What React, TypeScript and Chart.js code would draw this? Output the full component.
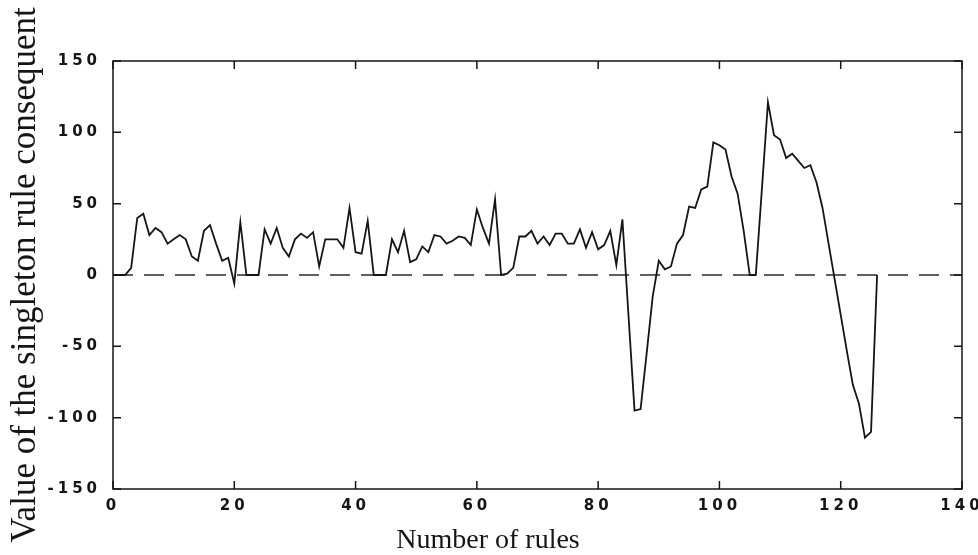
import React, { useEffect, useRef } from "react";
import { Chart, registerables } from "chart.js";

Chart.register(...registerables);

// Rule index (0..126) and the singleton rule consequent values
const ruleValues: number[] = [
  0, 0, 0, 5, 40, 43, 28, 33, 30, 22,
  25, 28, 25, 13, 10, 31, 35, 22, 10, 12,
  -6, 37, 0, 0, 0, 32, 22, 33, 19, 13,
  25, 29, 26, 30, 6, 25, 25, 25, 19, 47,
  16, 15, 38, 0, 0, 0, 25, 16, 31, 9,
  11, 20, 16, 28, 27, 22, 24, 27, 26, 21,
  46, 33, 22, 53, 0, 1, 5, 27, 27, 31,
  22, 27, 21, 29, 29, 22, 22, 32, 19, 30,
  18, 21, 31, 7, 39, -28, -95, -94, -55, -15,
  10, 4, 6, 22, 28, 48, 47, 60, 62, 93,
  91, 88, 69, 57, 31, 0, 0, 60, 121, 98,
  95, 82, 85, 80, 75, 77, 65, 47, 22, -3,
  -28, -53, -77, -90, -114, -110, 0,
];
const zeroLineX: number[] = [0, 140];
const zeroLineY: number[] = [0, 0];

const xTitle = "Number of rules";
const yTitle = "Value of the singleton rule consequent";

const INK = "#151515";

const framePlugin = {
  id: "frameTicks",
  afterDatasetsDraw(chart: any) {
    const { ctx, chartArea, scales } = chart;
    const { left, right, top, bottom } = chartArea;
    const tl = 8;
    ctx.save();
    ctx.strokeStyle = INK;
    ctx.lineWidth = 1.5;
    ctx.beginPath();
    scales.x.ticks.forEach((t: any) => {
      const px = scales.x.getPixelForValue(t.value);
      ctx.moveTo(px, bottom);
      ctx.lineTo(px, bottom - tl);
      ctx.moveTo(px, top);
      ctx.lineTo(px, top + tl);
    });
    scales.y.ticks.forEach((t: any) => {
      const py = scales.y.getPixelForValue(t.value);
      ctx.moveTo(left, py);
      ctx.lineTo(left + tl, py);
      ctx.moveTo(right, py);
      ctx.lineTo(right - tl, py);
    });
    ctx.stroke();
    ctx.strokeRect(left, top, right - left, bottom - top);
    ctx.restore();
    // spaced-out tick labels (drawn after this hook, at z = 1)
    (ctx as any).letterSpacing = "4px";
  },
  afterDraw(chart: any) {
    (chart.ctx as any).letterSpacing = "0px";
  },
};

export default function App() {
  const canvasRef = useRef<HTMLCanvasElement | null>(null);

  useEffect(() => {
    if (!canvasRef.current) return;
    const points = ruleValues.map((v, i) => ({ x: i, y: v }));
    const zeroPts = zeroLineX.map((x, i) => ({ x, y: zeroLineY[i] }));
    const tickFont = { family: "'DejaVu Sans', 'Liberation Sans', sans-serif", size: 15, weight: "bold" as const };
    const chart = new Chart(canvasRef.current, {
      type: "line",
      data: {
        datasets: [
          {
            data: points,
            borderColor: INK,
            borderWidth: 1.8,
            pointRadius: 0,
            tension: 0,
          },
          {
            data: zeroPts,
            borderColor: "#2a2a2a",
            borderWidth: 1.5,
            borderDash: [20, 11],
            pointRadius: 0,
          },
        ],
      },
      options: {
        responsive: false,
        animation: false,
        devicePixelRatio: 1,
        layout: { padding: { top: 61, right: 2, left: 0, bottom: 0 } },
        plugins: {
          legend: { display: false },
          tooltip: { enabled: false },
          title: {
            display: true,
            position: "bottom",
            text: xTitle,
            color: INK,
            font: { family: "'Liberation Serif', 'Times New Roman', serif", size: 28, weight: "normal", lineHeight: 1.0 },
            padding: 0,
          },
        },
        scales: {
          x: {
            type: "linear",
            min: 0,
            max: 140,
            grid: { display: false },
            border: { display: false },
            ticks: { stepSize: 20, color: INK, font: tickFont, padding: 0, maxRotation: 0, z: 1 },
            afterFit: (s: any) => {
              s.height = 38;
            },
          },
          y: {
            type: "linear",
            min: -150,
            max: 150,
            grid: { display: false },
            border: { display: false },
            ticks: { stepSize: 50, color: INK, font: tickFont, padding: 4, z: 1 },
            title: {
              display: true,
              text: yTitle,
              color: INK,
              font: { family: "'Liberation Serif', 'Times New Roman', serif", size: 35, weight: "normal" },
              padding: { top: 5, bottom: 0 },
            },
            afterFit: (s: any) => {
              s.width = 113;
            },
          },
          yRight: {
            type: "linear",
            position: "right",
            min: -150,
            max: 150,
            grid: { display: false },
            border: { display: false },
            ticks: { display: false },
            afterFit: (s: any) => {
              s.width = 14;
            },
          },
        },
      },
      plugins: [framePlugin],
    });
    return () => chart.destroy();
  }, []);

  return (
    <div style={{ position: "absolute", left: 0, top: 0, width: 978, height: 555, background: "#fff" }}>
      <canvas ref={canvasRef} width={978} height={555} />
    </div>
  );
}
